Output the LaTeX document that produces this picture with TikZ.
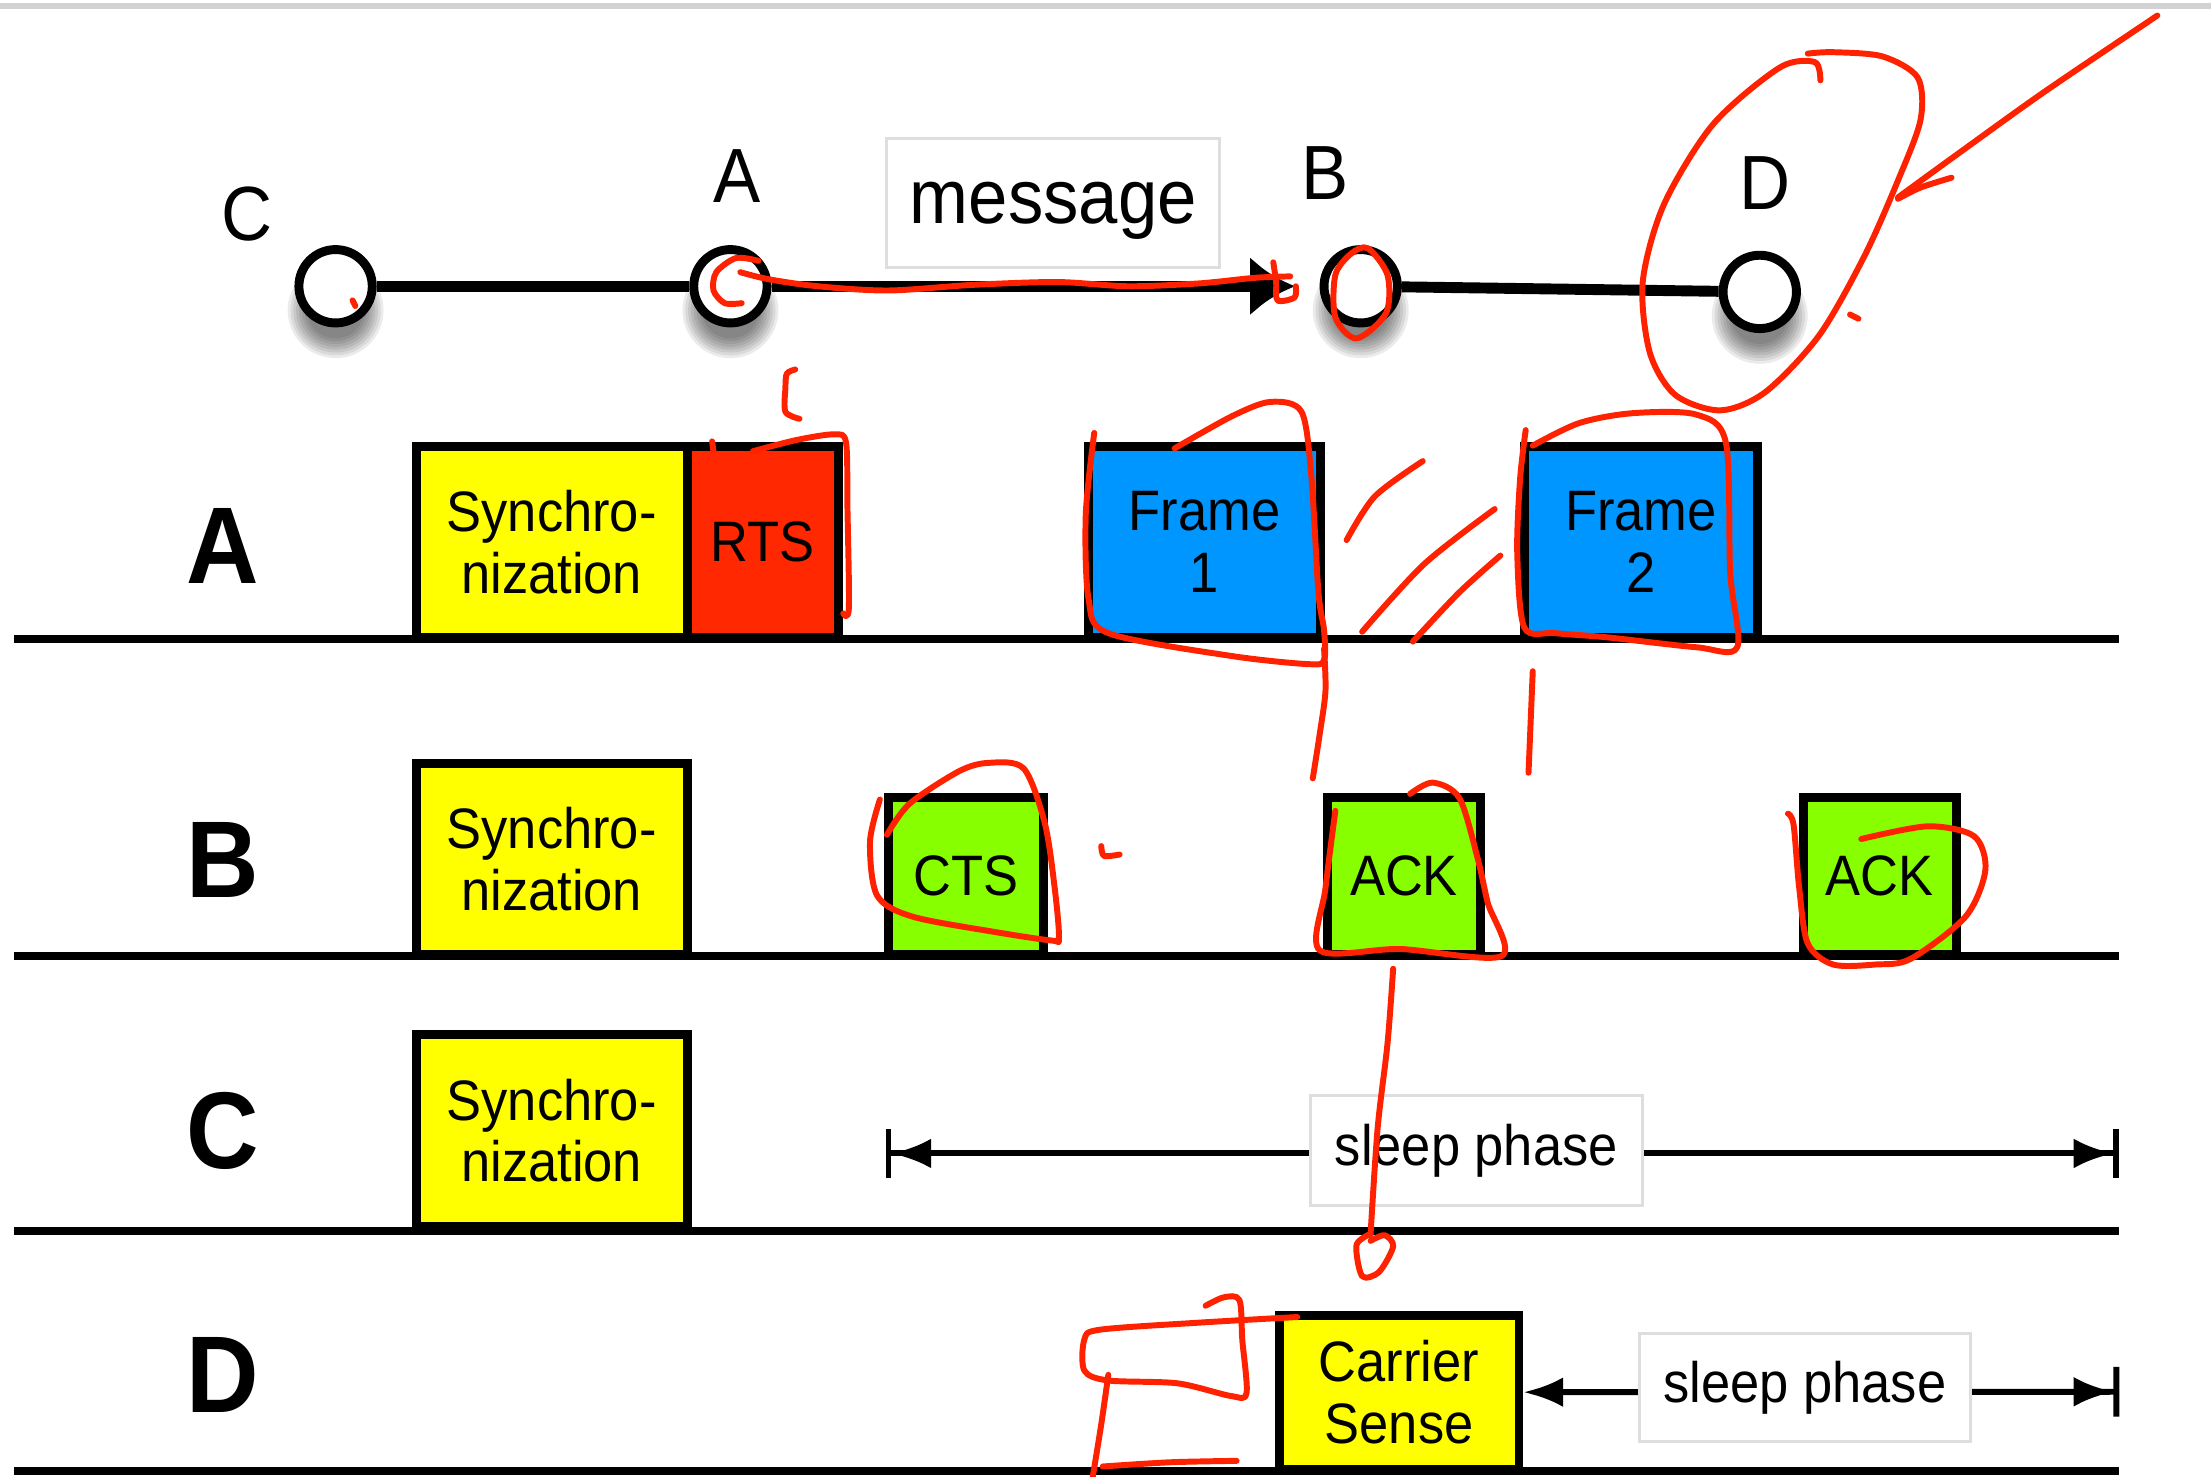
\documentclass[tikz,border=0pt]{standalone}
\usepackage{fontspec}
\setmainfont{Liberation Sans}[FakeStretch=0.92]
\usepackage{xcolor}
\usetikzlibrary{arrows.meta, calc, positioning}
\definecolor{syncyellow}{RGB}{255,255,0}
\definecolor{rtsred}{RGB}{255,40,0}
\definecolor{frameblue}{RGB}{0,150,255}
\definecolor{ackgreen}{RGB}{136,255,0}
\definecolor{penred}{RGB}{255,34,0}
\definecolor{boxgray}{RGB}{222,222,222}

\tikzset{
  station/.style={circle, draw, fill=white, line width=1.8pt, minimum size=0.52cm, inner sep=0pt},
  stname/.style={font=\fontsize{15.5}{16}\selectfont},
  rowname/.style={font=\fontsize{22}{22}\selectfont\bfseries},
  link/.style={line width=2.2pt},
  timeline/.style={line width=1.6pt},
  pkt/.style={draw, line width=1.8pt, anchor=south west, align=center, inner sep=0pt,
    font=\fontsize{11.5}{12.4}\selectfont},
  tagbox/.style={draw=boxgray, fill=white, line width=0.6pt, inner sep=0pt},
  sleeparrow/.style={line width=1.2pt},
  scribble/.style={penred, line width=1.2pt, line cap=round, line join=round},
}

\begin{document}
\begin{tikzpicture}[x=0.01cm, y=-0.01cm]
\useasboundingbox (0,0) rectangle (1568,1047);
\fill[gray!35] (0,2.4) rectangle (1568,6.6);

% network
\foreach \sx/\sy in {238/203,518/203,965/203,1248/207}
  \foreach \k in {1,...,8}
    \fill[black, opacity=0.08] (\sx,\sy+17) circle[radius={0.36cm-\k*0.02cm}];

\node[station] (nC) at (238,203) {};
\node[station] (nA) at (518,203) {};
\node[station] (nB) at (965,203) {};
\node[station] (nD) at (1248,207) {};
\node[stname] (lC) at (175,152) {C};
\node[stname] (lA) at (523,125) {A};
\node[stname] (lB) at (940,123) {B};
\node[stname] (lD) at (1252,130) {D};

\draw[link] (nC) -- (nA);
\draw[link, -{Latex[length=9pt,width=12pt]}, shorten >=5pt] (nA) -- (nB);
\draw[link] (nB) -- (nD);
\node[tagbox, minimum width=2.36cm, minimum height=0.91cm, text depth=0pt,
  font=\fontsize{15.5}{16}\selectfont] (msg) at (747,144) {message};

% time lines
\foreach \r/\y/\ly in {A/453/387,B/678/610,C/873/802,D/1043/975}{
  \draw[timeline] (10,\y) -- (1503,\y);
  \node[rowname] (row\r) at (158,\ly) {\r};
}

\node[pkt, fill=syncyellow, minimum width=1.92cm, minimum height=1.35cm] (syncA) at (292,455) {Synchro-\\nization};
\node[pkt, fill=rtsred, minimum width=1.07cm, minimum height=1.35cm, anchor=west, right=-1.8pt of syncA] (rts) {RTS};
\node[pkt, fill=frameblue, minimum width=1.64cm, minimum height=1.35cm] (frame1) at (769,455) {Frame\\1};
\node[pkt, fill=frameblue, minimum width=1.65cm, minimum height=1.35cm] (frame2) at (1078,455) {Frame\\2};

\node[pkt, fill=syncyellow, minimum width=1.92cm, minimum height=1.35cm] (syncB) at (292,680) {Synchro-\\nization};
\node[pkt, fill=ackgreen, minimum width=1.10cm, minimum height=1.11cm] (cts) at (627,680) {CTS};
\node[pkt, fill=ackgreen, minimum width=1.09cm, minimum height=1.11cm] (ack1) at (938,680) {ACK};
\node[pkt, fill=ackgreen, minimum width=1.08cm, minimum height=1.11cm] (ack2) at (1276,680) {ACK};

\node[pkt, fill=syncyellow, minimum width=1.92cm, minimum height=1.36cm] (syncC) at (292,873) {Synchro-\\nization};

\node[pkt, fill=syncyellow, minimum width=1.70cm, minimum height=1.09cm] (cs) at (904,1045) {Carrier\\Sense};

% sleep phases
\coordinate (cL) at (628,818);
\coordinate (cR) at (1503,818);
\coordinate (dR) at (1503,987);
\draw[sleeparrow, {Bar[width=10pt]Latex[length=8pt,width=6pt]}-{Latex[length=8pt,width=6pt]Bar[width=10pt]}] (cL) -- (cR);
\draw[sleeparrow, {Latex[length=8pt,width=6pt]}-{Latex[length=8pt,width=6pt]Bar[width=10pt]}] (cs.east) -- (dR);
\node[tagbox, minimum width=2.35cm, minimum height=0.78cm, font=\fontsize{11.5}{12}\selectfont] (sleepC) at (1047,816) {sleep phase};
\node[tagbox, minimum width=2.35cm, minimum height=0.77cm, font=\fontsize{11.5}{12}\selectfont] (sleepD) at (1280,984) {sleep phase};

% red pen marks
\draw[scribble] plot[smooth] coordinates {(1530,11) (1450,65) (1390,108) (1346,140)};
\draw[scribble] plot[smooth] coordinates {(1384,126) (1362,133) (1346,141)};
\draw[scribble] plot[smooth] coordinates {(1291,57) (1287,44) (1262,48) (1215,88) (1180,145) (1165,200) (1170,250) (1188,280) (1220,291) (1252,278) (1290,238) (1322,182) (1346,128) (1362,85) (1360,55) (1335,40) (1300,37) (1282,38)};
\draw[scribble] (1312,223) -- (1318,226);
\draw[scribble] (250,213) -- (252,217);
\draw[scribble] plot[smooth] coordinates {(538,185) (522,183) (508,193) (506,206) (514,215) (526,215)};
\draw[scribble] plot[smooth] coordinates {(525,193) (545,198) (580,203) (630,206) (690,202) (750,200) (800,203) (850,201) (890,197) (915,196)};
\draw[scribble] plot[smooth] coordinates {(903,186) (905,200) (906,213) (918,211) (919,203)};
\draw[scribble] plot[smooth cycle] coordinates {(970,176) (984,195) (983,222) (962,240) (947,225) (947,195) (958,180)};
\draw[scribble] plot[smooth] coordinates {(564,262) (558,265) (557,275) (557,292) (567,297)};
\draw[scribble] (505,313) -- (506,320);
\draw[scribble] plot[smooth] coordinates {(534,320) (565,312) (592,308) (600,314) (601,360) (602,431) (598,435)};
\draw[scribble] plot[smooth] coordinates {(833,318) (874,295) (901,285) (923,292) (930,338) (935,420) (939,447) (939,468) (928,471) (872,465) (786,449) (772,425) (770,365) (776,307)};
\draw[scribble] plot[smooth] coordinates {(939,460) (940,490) (936,520) (931,552)};
\draw[scribble] plot[smooth] coordinates {(955,383) (975,352) (1009,327)};
\draw[scribble] plot[smooth] coordinates {(966,448) (1010,400) (1060,361)};
\draw[scribble] plot[smooth] coordinates {(1002,455) (1035,420) (1064,394)};
\draw[scribble] plot[smooth] coordinates {(1087,316) (1120,300) (1158,293) (1203,294) (1224,314) (1227,406) (1232,459) (1203,459) (1140,452) (1103,449) (1081,445) (1076,392) (1078,340) (1082,305)};
\draw[scribble] (1087,476) -- (1084,548);
\draw[scribble] plot[smooth] coordinates {(629,592) (645,570) (680,547) (701,541) (726,545) (741,584) (748,630) (751,665) (746,667) (706,661) (647,650) (622,635) (617,597) (624,567)};
\draw[scribble] plot[smooth] coordinates {(781,600) (783,607) (794,606)};
\draw[scribble] plot[smooth] coordinates {(947,575) (940,630) (936,674) (993,673) (1065,678) (1055,640) (1048,609) (1035,566) (1016,555) (1000,563)};
\draw[scribble] plot[smooth] coordinates {(988,687) (984,740) (977,800) (972,875)};
\draw[scribble] plot[smooth] coordinates {(972,875) (962,883) (966,905) (978,902) (988,884) (982,876) (972,880)};
\draw[scribble] plot[smooth] coordinates {(1268,577) (1272,585) (1276,630) (1282,669) (1300,684) (1330,684) (1355,680) (1394,650) (1408,617) (1400,593) (1367,586) (1320,595)};
\draw[scribble] plot[smooth] coordinates {(920,934) (850,938) (780,943) (769,950) (769,972) (786,979) (835,981) (873,990) (884,988) (881,950) (879,922) (868,920) (855,926)};
\draw[scribble] plot[smooth] coordinates {(786,975) (781,1010) (775,1047)};
\draw[scribble] plot[smooth] coordinates {(782,1040) (830,1037) (877,1036)};
\end{tikzpicture}
\end{document}
